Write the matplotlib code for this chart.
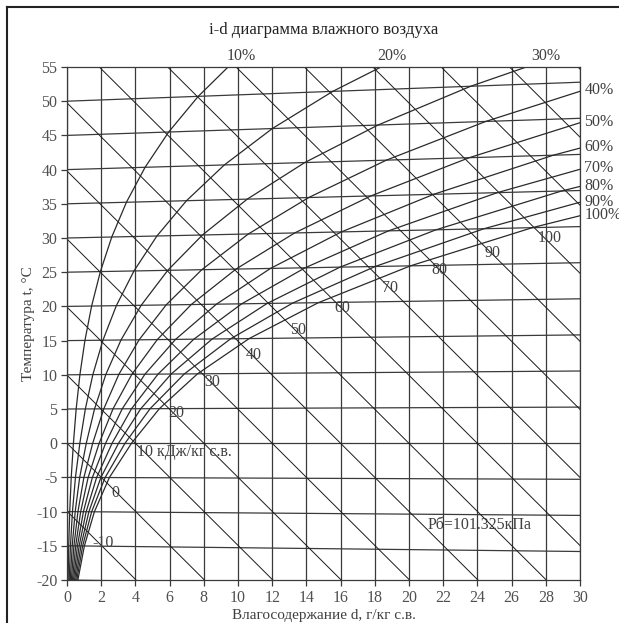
import matplotlib
matplotlib.use('Agg')
import matplotlib.pyplot as plt
from matplotlib.lines import Line2D
import numpy as np

plt.rcParams['font.family'] = ['Liberation Serif', 'DejaVu Serif']
plt.rcParams['axes.unicode_minus'] = False

# табличные данные: давление насыщенного пара (кПа) по температуре
t_table = [-20, -15, -10, -5, 0, 5, 10, 15, 20, 25, 30, 35, 40, 45, 50, 55]
ps_table = [0.1032, 0.1652, 0.2600, 0.4019, 0.6112, 0.8726, 1.2282, 1.7058,
            2.3392, 3.1697, 4.2467, 5.6286, 7.3844, 9.5944, 12.351, 15.761]
P_bar = 101.325

rh_levels = [10, 20, 30, 40, 50, 60, 70, 80, 90, 100]
isotherms = [-20, -15, -10, -5, 0, 5, 10, 15, 20, 25, 30, 35, 40, 45, 50, 55]
enthalpies = [-20, -10, 0, 10, 20, 30, 40, 50, 60, 70, 80, 90, 100, 110, 120, 130]
d_grid = [0, 2, 4, 6, 8, 10, 12, 14, 16, 18, 20, 22, 24, 26, 28, 30]

# подписи
top_rh = ['10%', '20%', '30%']
top_rh_d = [10.2, 19.0, 28.0]
right_rh = ['40%', '50%', '60%', '70%', '80%', '90%', '100%']
right_rh_y = [51.6, 46.9, 43.3, 40.3, 37.6, 35.3, 33.3]
i_labels = ['-10', '0', '10 кДж/кг с.в.', '20', '30', '40', '50', '60', '70', '80', '90', '100']
i_label_pos = [(2.1, -14.6), (2.8, -7.3), (4.1, -1.3), (6.4, 4.4), (8.5, 8.9),
               (10.9, 12.9), (13.5, 16.5), (16.1, 19.8), (18.9, 22.7),
               (21.8, 25.3), (24.9, 27.8), (28.2, 30.0)]


def skew_y(t, d):
    # косоугольная система: изотерма 0 горизонтальна
    return t + 0.00186 * t * d / 1.005


fig = plt.figure(figsize=(6.19, 6.23), dpi=100)
ax = fig.add_axes([67 / 619, 43 / 623, 513 / 619, 513 / 623])

line_col = '#3a3a3a'

# вертикальные линии d = const
for d in d_grid:
    ax.plot([d, d], [-20, 55], color=line_col, lw=0.9)

# изотермы
for t in isotherms:
    ax.plot([0, 30], [skew_y(t, 0), skew_y(t, 30)], color=line_col, lw=0.9)

# линии i = const
for i in enthalpies:
    ax.plot([0, 30], [i / 1.005, (i - 2.501 * 30) / 1.005], color='#1a1a1a', lw=0.7)

# кривые относительной влажности
t_arr = np.array(t_table, dtype=float)
ps_arr = np.array(ps_table)
for rh in rh_levels:
    pv = rh / 100 * ps_arr
    d = 622 * pv / (P_bar - pv)
    ax.plot(d, skew_y(t_arr, d), color='#2a2a2a', lw=0.9)

ax.set_xlim(0, 30)
ax.set_ylim(-20, 55)
ax.set_xticks(d_grid)
ax.set_yticks(isotherms)
ax.tick_params(direction='out', length=4, width=0.9, colors='#3a3a3a',
               labelcolor='#505050', labelsize=11.5, pad=3)
for s in ax.spines.values():
    s.set_color(line_col)
    s.set_linewidth(0.9)

ax.set_title('i-d диаграмма влажного воздуха', fontsize=12, color='#222222', pad=24)
ax.set_xlabel('Влагосодержание d, г/кг с.в.', fontsize=11, color='#404040', labelpad=2)
ax.set_ylabel('Температура t, °C', fontsize=11, color='#404040', labelpad=1)

for lab, d in zip(top_rh, top_rh_d):
    ax.text(d, 55.4, lab, ha='center', va='bottom', fontsize=11.5, color='#404040', clip_on=False)
for lab, y in zip(right_rh, right_rh_y):
    ax.text(30.25, y, lab, ha='left', va='center', fontsize=11.5, color='#404040', clip_on=False)
for lab, (d, y) in zip(i_labels, i_label_pos):
    ha = 'left' if 'кДж' in lab else 'center'
    ax.text(d, y, lab, ha=ha, va='center', fontsize=11.5, color='#404040')

ax.text(21.1, -12.0, 'Рб=101.325кПа', ha='left', va='center', fontsize=11.5, color='#404040')

# рамка
fig.add_artist(Line2D([7 / 619, 7 / 619], [0, 1 - 7 / 623], color='#222222', lw=1.5))
fig.add_artist(Line2D([7 / 619, 1], [1 - 7 / 623, 1 - 7 / 623], color='#222222', lw=1.5))

fig.savefig('out.png', dpi=100)
